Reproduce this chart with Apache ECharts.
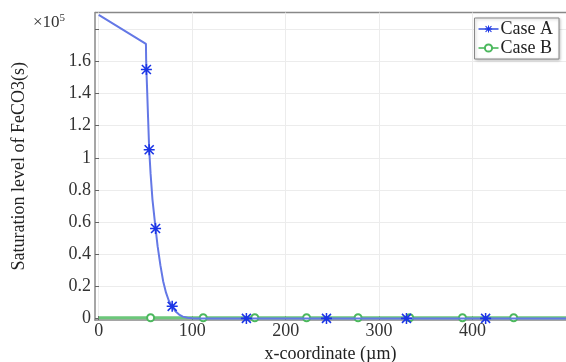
<!DOCTYPE html>
<html>
<head>
<meta charset="utf-8">
<script src="https://cdn.jsdelivr.net/npm/echarts@6/dist/echarts.min.js"></script>
<style>
  html, body { margin: 0; padding: 0; background: #fff; }
  #chart { width: 566px; height: 362px; }
</style>
</head>
<body>
<div id="chart"></div>
<script>
// 饱和度曲线 - 数值单位 1e5

// x 刻度与标签
const xTicks = [0, 100, 200, 300, 400];
const yTicks = [0, 0.2, 0.4, 0.6, 0.8, 1, 1.2, 1.4, 1.6, 1.8];
const yLabels = [0, 0.2, 0.4, 0.6, 0.8, 1, 1.2, 1.4, 1.6];

// Case A 曲线 (x, y)
const caseAX = [0, 50.5, 50.7, 51, 51.8, 52.8, 54, 55.5, 57.5, 60.8, 63, 66, 69, 72, 75, 78.6,
    82, 86, 90, 95, 100, 105, 158, 243.7, 329.3, 414, 500];
const caseAY = [1.89, 1.71, 1.62, 1.55, 1.42, 1.25, 1.05, 0.9, 0.74, 0.56, 0.45, 0.33, 0.23, 0.16, 0.11, 0.075,
    0.045, 0.024, 0.011, 0.004, 0.001, 0, 0, 0, 0, 0, 0];
// 带标记的点
const caseAMarks = [51, 54, 60.8, 78.6, 158, 243.7, 329.3, 414];

// Case B 曲线
const caseBX = [0, 55.5, 111.8, 167, 222.4, 277.5, 332.8, 389.2, 444, 500];
const caseBY = [0.004, 0.004, 0.004, 0.004, 0.004, 0.004, 0.004, 0.004, 0.004, 0.004];
const caseBMarks = [55.5, 111.8, 167, 222.4, 277.5, 332.8, 389.2, 444];

const FONT = 'Liberation Serif';
const starPath = 'path://M0,4.3L10,4.3L10,5.7L0,5.7Z M4.3,0L5.7,0L5.7,10L4.3,10Z ' +
    'M1.4,0.4L9.6,8.6L8.6,9.6L0.4,1.4Z M8.6,0.4L9.6,1.4L1.4,9.6L0.4,8.6Z';

function buildData(xs, ys, marks) {
    return xs.map((x, i) => {
        const item = { value: [x, ys[i]] };
        if (marks.indexOf(x) < 0) item.symbol = 'none';
        return item;
    });
}

const chart = echarts.init(document.getElementById('chart'));

const option = {
    animation: false,
    grid: { left: 95, right: 0, top: 12.5, bottom: 42, show: false, outerBoundsMode: 'none', containLabel: false },
    legend: {
        right: 7,
        top: 18,
        orient: 'vertical',
        backgroundColor: '#fff',
        borderColor: '#888',
        borderWidth: 1,
        padding: [2, 6, 2, 3],
        itemGap: 1,
        itemWidth: 20,
        itemHeight: 9,
        shadowColor: 'rgba(0,0,0,0.25)',
        shadowBlur: 3,
        shadowOffsetX: 1,
        shadowOffsetY: 1,
        textStyle: { fontFamily: FONT, fontSize: 18, color: '#222', padding: [0, 0, 0, -3] },
        data: ['Case A', 'Case B']
    },
    graphic: [{
        type: 'text',
        left: 33,
        top: 13,
        style: {
            text: '×10{s|5}',
            font: '17px "Liberation Serif"',
            fill: '#333',
            rich: { s: { fontSize: 11, fontFamily: FONT, verticalAlign: 'top', padding: [0, 0, 8, 0] } }
        }
    }, {
        type: 'line',
        shape: { x1: 95, y1: 12.5, x2: 566, y2: 12.5 },
        style: { stroke: '#888', lineWidth: 1.5 }
    }],
    xAxis: {
        type: 'value',
        min: -4,
        max: 500,
        name: 'x-coordinate (µm)',
        nameLocation: 'middle',
        nameGap: 24,
        nameTextStyle: { fontFamily: FONT, fontSize: 18, color: '#222' },
        axisLine: { show: true, onZero: false, lineStyle: { color: '#888', width: 1.5 } },
        axisTick: { show: true, inside: true, length: 4, customValues: xTicks, lineStyle: { color: '#666' } },
        axisLabel: { customValues: xTicks, fontFamily: FONT, fontSize: 18, color: '#333', margin: 2 },
        splitLine: { show: true, lineStyle: { color: '#ececec' } }
    },
    yAxis: {
        type: 'value',
        min: -0.01,
        max: 1.905,
        name: 'Saturation level of FeCO3(s)',
        nameLocation: 'middle',
        nameGap: 67,
        nameTextStyle: { fontFamily: FONT, fontSize: 18, color: '#222' },
        axisLine: { show: true, onZero: false, lineStyle: { color: '#888', width: 1.5 } },
        axisTick: { show: true, inside: true, length: 4, customValues: yTicks, lineStyle: { color: '#666' } },
        axisLabel: {
            customValues: yLabels,
            fontFamily: FONT, fontSize: 18, color: '#333', margin: 4,
            formatter: v => String(Math.round(v * 10) / 10)
        },
        splitLine: { show: true, lineStyle: { color: '#ececec' } }
    },
    series: [
        {
            name: 'Case A',
            type: 'line',
            showAllSymbol: true,
            symbol: starPath,
            symbolSize: 11,
            data: buildData(caseAX, caseAY, caseAMarks),
            lineStyle: { color: '#6478e6', width: 2 },
            itemStyle: { color: '#1b35e6' },
            z: 3
        },
        {
            name: 'Case B',
            type: 'line',
            showAllSymbol: true,
            symbol: 'emptyCircle',
            symbolSize: 7,
            data: buildData(caseBX, caseBY, caseBMarks),
            lineStyle: { color: '#6cc77a', width: 3 },
            itemStyle: { color: '#4cb85e', borderWidth: 1.5 },
            z: 2
        }
    ]
};

chart.setOption(option);
</script>
</body>
</html>
